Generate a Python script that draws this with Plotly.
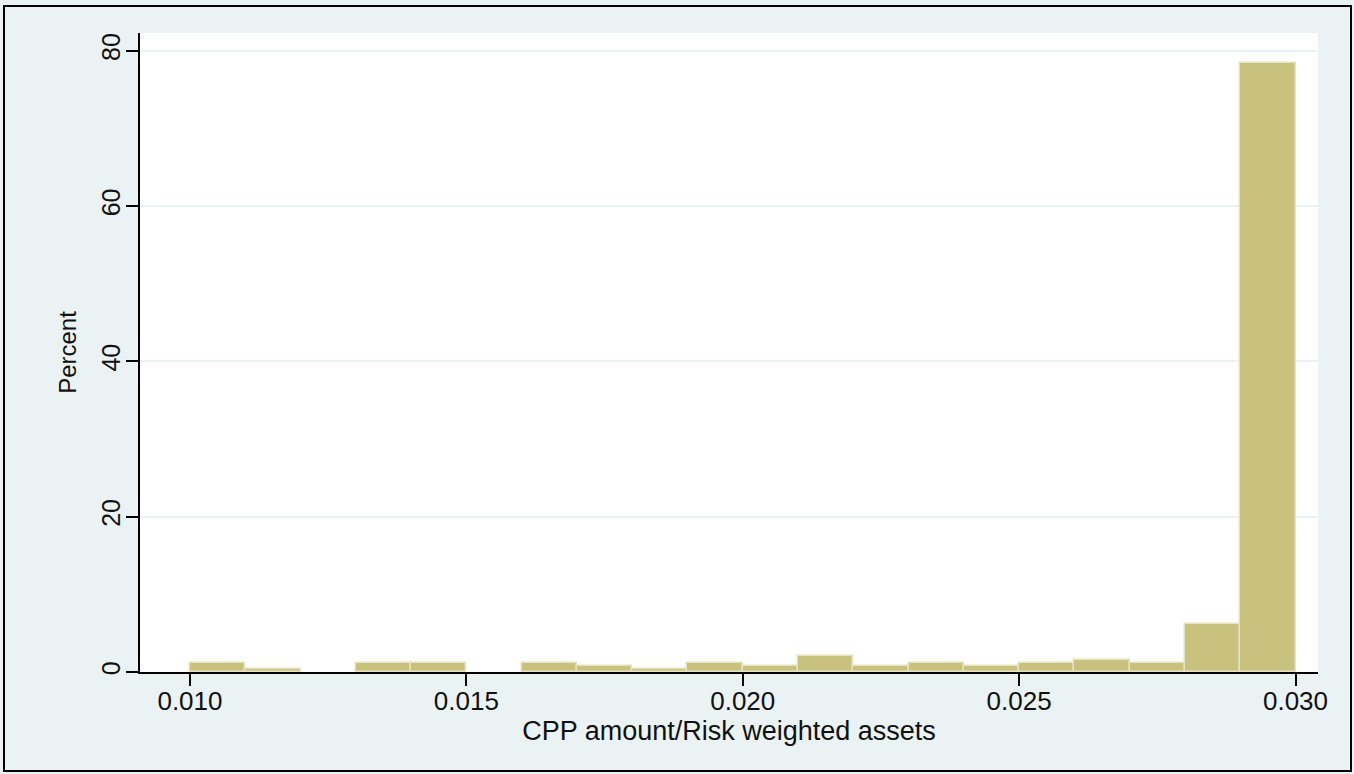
import plotly.graph_objects as go

# Histogram bins (left edges) and percentages
bin_left = [0.010, 0.011, 0.012, 0.013, 0.014, 0.015, 0.016, 0.017, 0.018, 0.019,
            0.020, 0.021, 0.022, 0.023, 0.024, 0.025, 0.026, 0.027, 0.028, 0.029]
percent = [1.2, 0.45, 0.0, 1.2, 1.2, 0.0, 1.2, 0.8, 0.45, 1.2,
           0.8, 2.0, 0.8, 1.2, 0.8, 1.2, 1.6, 1.2, 6.2, 78.5]
bin_width = 0.001

x_ticks = [0.010, 0.015, 0.020, 0.025, 0.030]
x_tick_text = ["0.010", "0.015", "0.020", "0.025", "0.030"]
y_ticks = [0, 20, 40, 60, 80]

BG = "#eaf2f3"
BAR = "#c9c27f"
BAR_LINE = "#e6e2c0"
FONT = "Liberation Sans, Arial, sans-serif"

# no outline on empty bins
line_widths = [1.5 if p > 0 else 0 for p in percent]

fig = go.Figure()
fig.add_trace(go.Bar(
    x=bin_left, y=percent, width=bin_width, offset=0,
    marker=dict(color=BAR, line=dict(color=BAR_LINE, width=line_widths)),
    showlegend=False,
))

W, H = 1354, 774
ml, mr, mt, mb = 140, 36, 33, 102

fig.update_layout(
    width=W, height=H,
    paper_bgcolor=BG, plot_bgcolor="white",
    margin=dict(l=ml, r=mr, t=mt, b=mb, pad=0),
    font=dict(family=FONT, size=24, color="#111111"),
    bargap=0,
)
fig.update_xaxes(
    range=[0.009096, 0.030407],
    tickvals=x_ticks, ticktext=x_tick_text,
    ticks="outside", ticklen=12, tickwidth=2, tickcolor="black",
    ticklabelstandoff=-7,
    showline=True, linecolor="black", linewidth=2,
    showgrid=False, zeroline=False,
    title=dict(text="CPP amount/Risk weighted assets", standoff=0,
               font=dict(size=27)),
    tickfont=dict(size=26),
)
fig.update_yaxes(
    range=[0, 82.3],
    tickvals=y_ticks, ticktext=[str(v) for v in y_ticks],
    tickangle=-90,
    ticks="outside", ticklen=12, tickwidth=2, tickcolor="black",
    ticklabelstandoff=-4,
    showline=True, linecolor="black", linewidth=2,
    showgrid=True, gridcolor=BG, gridwidth=2,
    zeroline=False,
    title=dict(text="Percent", standoff=14, font=dict(size=24)),
    tickfont=dict(size=25),
)

# Outer black frame around the whole graph
pw = W - ml - mr
ph = H - mt - mb
fig.add_shape(
    type="rect", xref="paper", yref="paper",
    x0=(4 - ml) / pw, x1=(W - 3 - ml) / pw,
    y0=-(H - 3 - mt - ph) / ph, y1=1 + (mt - 6) / ph,
    line=dict(color="black", width=2), fillcolor="rgba(0,0,0,0)", layer="above",
)

fig.write_html("out.html", config={"displayModeBar": False},
               post_script="document.body.style.margin='0';")
